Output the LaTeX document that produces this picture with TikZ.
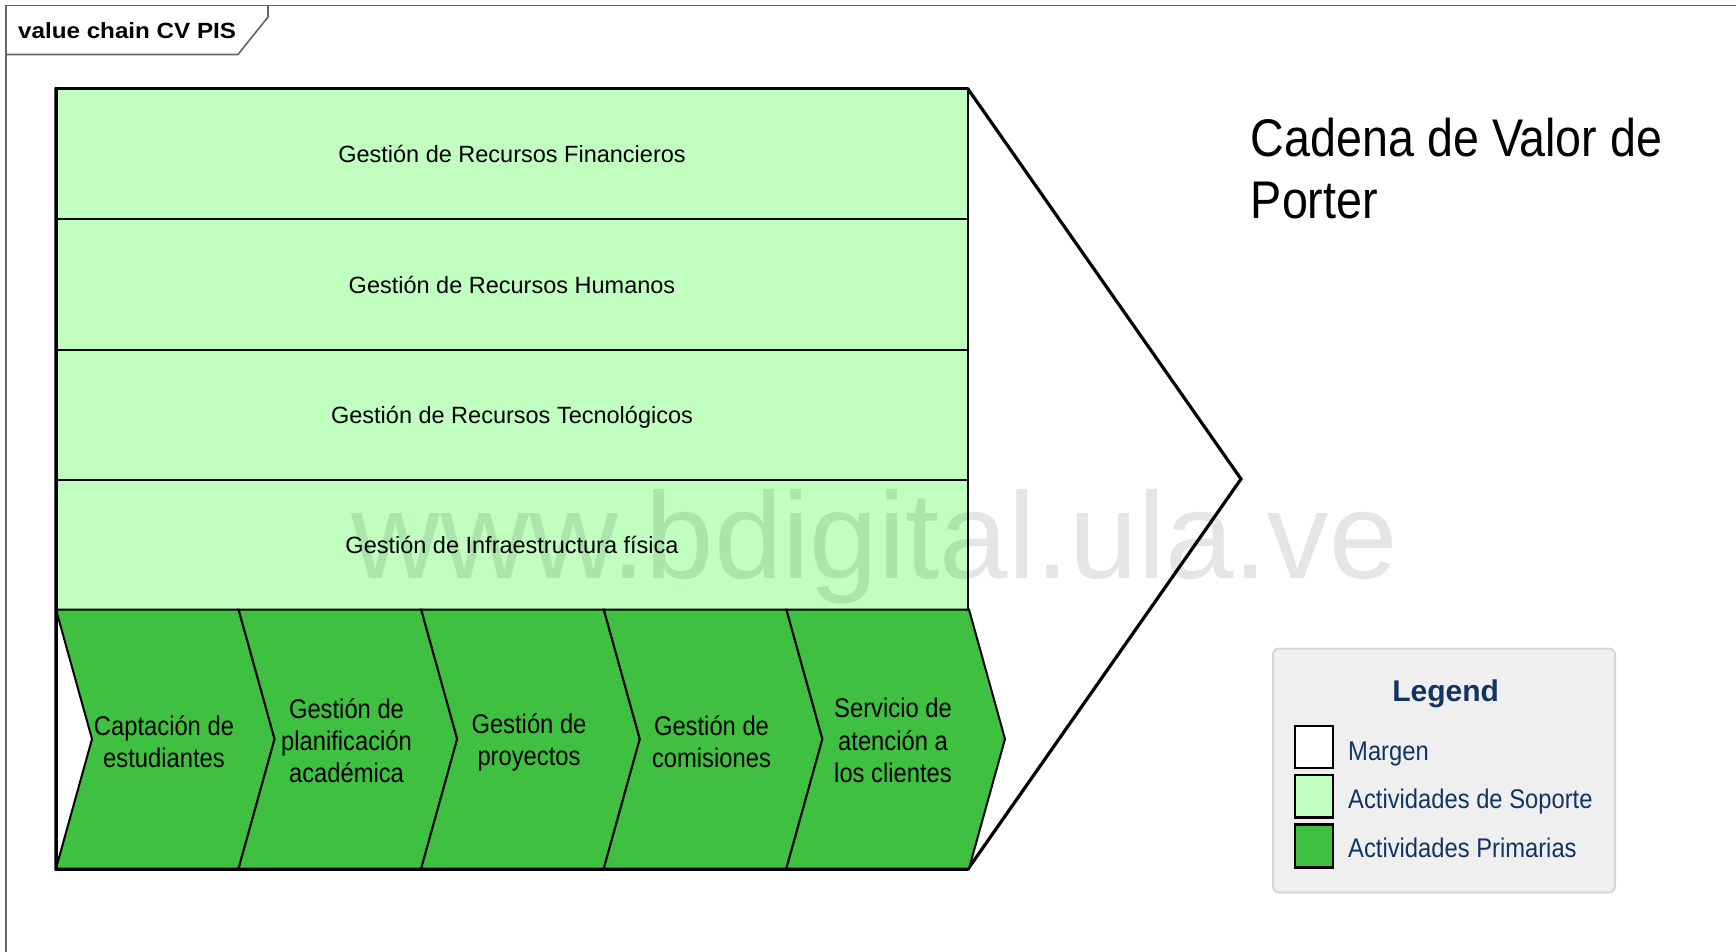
\documentclass[tikz,border=0pt]{standalone}
\usepackage{fontspec}
\setmainfont{Liberation Sans}
\newfontfamily\condfont[FakeStretch=0.88]{Liberation Sans}
\newfontfamily\tabfont[FakeStretch=1.1]{Liberation Sans}
\definecolor{supportgreen}{RGB}{192,255,192}
\definecolor{primarygreen}{RGB}{64,192,64}
\definecolor{framegray}{RGB}{100,100,100}
\definecolor{legendfill}{RGB}{239,239,239}
\definecolor{legendedge}{RGB}{214,214,214}
\definecolor{legendblue}{RGB}{18,52,98}
\begin{document}
\begin{tikzpicture}[x=1pt,y=-1pt,
  framebox/.style={draw=framegray, line width=1.6pt},
  marginshape/.style={fill=white, draw=black, line width=3.2pt, line join=miter},
  supportrow/.style={fill=supportgreen, draw=black, line width=2pt},
  primarychev/.style={fill=primarygreen, draw=black, line width=2pt, line join=miter},
  supporttext/.style={font=\fontsize{23.5}{27}\selectfont, inner sep=0pt, anchor=base},
  primarytext/.style={font=\condfont\fontsize{27}{32.2}\selectfont, align=center, inner sep=0pt},
  legendswatch/.style={draw=black, line width=2.4pt},
  legendlabel/.style={font=\condfont\fontsize{27}{30}\selectfont, text=legendblue, anchor=base west, inner sep=0pt}
]
\useasboundingbox (0,0) rectangle (1736,952);

% diagram frame with its name tab
\draw[framebox] (1736,5.5) -- (6,5.5) -- (6,952);
\draw[framebox] (268,5.5) -- (268,17) -- (238,54.5) -- (6,54.5);
\node[anchor=base west, inner sep=0pt, font=\tabfont\bfseries\fontsize{22}{25}\selectfont] (tab) at (18,38.5) {value chain CV PIS};

% margin arrow behind the activities
\draw[marginshape] (56,89) -- (968,89) -- (1241,479) -- (968,869) -- (56,869) -- cycle;

% support activities
\draw[supportrow] (56,89) rectangle (968,219);
\draw[supportrow] (56,219) rectangle (968,349.5);
\draw[supportrow] (56,349.5) rectangle (968,479.5);
\draw[supportrow] (56,479.5) rectangle (968,609.5);

% primary activities as chevrons
\foreach \i in {0,...,4}{
  \pgfmathsetmacro\L{56+182.6*\i}
  \draw[primarychev] (\L,609.5) -- ++(182.6,0) -- ++(36,129.5) -- ++(-36,129.5)
      -- ++(-182.6,0) -- ++(36,-129.5) -- cycle;
}

% outer border of the activity block
\draw[line width=3pt, line join=miter] (968,89) -- (56,89) -- (56,869) -- (968,869);

% support labels
\node[supporttext] (s1) at (512,162.5) {Gestión de Recursos Financieros};
\node[supporttext] (s2) at (512,293) {Gestión de Recursos Humanos};
\node[supporttext] (s3) at (512,423) {Gestión de Recursos Tecnológicos};
\node[supporttext] (s4) at (512,553.3) {Gestión de Infraestructura física};

% primary labels
\node[primarytext] (p1) at (164,742) {Captación de\\estudiantes};
\node[primarytext] (p2) at (346.5,740.5) {Gestión de\\planificación\\académica};
\node[primarytext] (p3) at (529,742) {Gestión de\\proyectos};
\node[primarytext] (p4) at (711.5,742) {Gestión de\\comisiones};
\node[primarytext] (p5) at (893,740.5) {Servicio de\\atención a\\los clientes};

% title
\node[anchor=base west, align=left, inner sep=0pt, font=\condfont\fontsize{53}{61.6}\selectfont] (title) at (1250.7,218.3) {Cadena de Valor de\\Porter};

% legend
\draw[fill=legendfill, draw=legendedge, line width=2pt, rounded corners=6pt] (1273,648.5) rectangle (1615,892.5);
\node[anchor=base, inner sep=0pt, text=legendblue, font=\bfseries\fontsize{30}{34}\selectfont] (legend) at (1445.7,701.7) {Legend};
\draw[legendswatch, fill=white] (1295,726) rectangle (1333,768);
\draw[legendswatch, fill=supportgreen] (1295,775) rectangle (1333,817.5);
\draw[legendswatch, fill=primarygreen] (1295,824.5) rectangle (1333,867.5);
\node[legendlabel] (l1) at (1348,760) {Margen};
\node[legendlabel] (l2) at (1348,808.3) {Actividades de Soporte};
\node[legendlabel] (l3) at (1348,857.3) {Actividades Primarias};

% repository watermark
\node[anchor=base, inner sep=0pt, text=black, text opacity=0.1, font=\fontsize{123}{130}\selectfont] (wm) at (875,578) {www.bdigital.ula.ve};
\end{tikzpicture}
\end{document}
